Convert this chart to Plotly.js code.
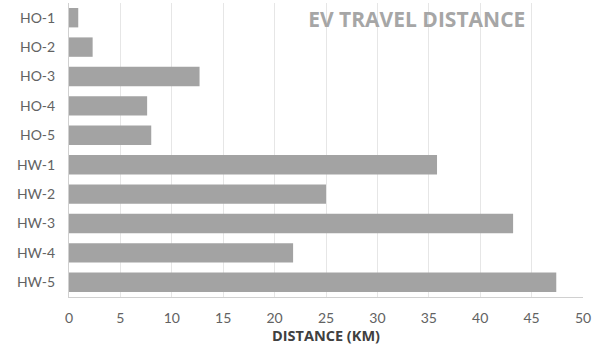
<!DOCTYPE html>
<html>
<head>
<meta charset="utf-8">
<script src="https://cdn.plot.ly/plotly-3.0.1.min.js"></script>
<style>
  html, body { margin: 0; padding: 0; background: #fff; }
  #chart { width: 604px; height: 349px; }
</style>
</head>
<body>
<div id="chart"></div>
<script>
// Travel distance per EV trip (km)
const trips = ["HO-1", "HO-2", "HO-3", "HO-4", "HO-5", "HW-1", "HW-2", "HW-3", "HW-4", "HW-5"];
const distanceKm = [0.9, 2.3, 12.7, 7.6, 8.0, 35.8, 25.0, 43.2, 21.8, 47.4];
const xTicks = [0, 5, 10, 15, 20, 25, 30, 35, 40, 45, 50];

const tickFont = { family: "Lato", size: 14, color: "#626262" };

const trace = {
  type: "bar",
  orientation: "h",
  y: trips,
  x: distanceKm,
  marker: { color: "#a3a3a3", line: { width: 0 } },
  hoverinfo: "x+y"
};

const layout = {
  width: 604,
  height: 349,
  margin: { l: 69, r: 21, t: 3, b: 52 },
  paper_bgcolor: "#ffffff",
  plot_bgcolor: "#ffffff",
  showlegend: false,
  bargap: 0.34,
  title: {
    text: "<b>EV TRAVEL DISTANCE</b>",
    font: { family: "Open Sans", size: 21, color: "#a6a6a6" },
    x: 0.69, xanchor: "center", xref: "container",
    y: 0.943, yanchor: "middle", yref: "container"
  },
  xaxis: {
    range: [0, 50],
    tickvals: xTicks,
    ticktext: xTicks.map(String),
    showgrid: true,
    gridcolor: "#e6e6e6",
    gridwidth: 1,
    zeroline: false,
    showline: true,
    linecolor: "#d0d0d0",
    linewidth: 1,
    ticks: "",
    ticklabelstandoff: 8,
    tickfont: tickFont,
    title: {
      text: "<b>DISTANCE (KM)</b>",
      font: { family: "Open Sans", size: 14.5, color: "#404040" },
      standoff: 5
    }
  },
  yaxis: {
    autorange: "reversed",
    showgrid: false,
    zeroline: false,
    showline: true,
    linecolor: "#d0d0d0",
    linewidth: 1,
    ticks: "",
    ticklabelstandoff: 10,
    tickfont: tickFont
  }
};

Plotly.newPlot("chart", [trace], layout, { displayModeBar: false, staticPlot: true });
</script>
</body>
</html>
